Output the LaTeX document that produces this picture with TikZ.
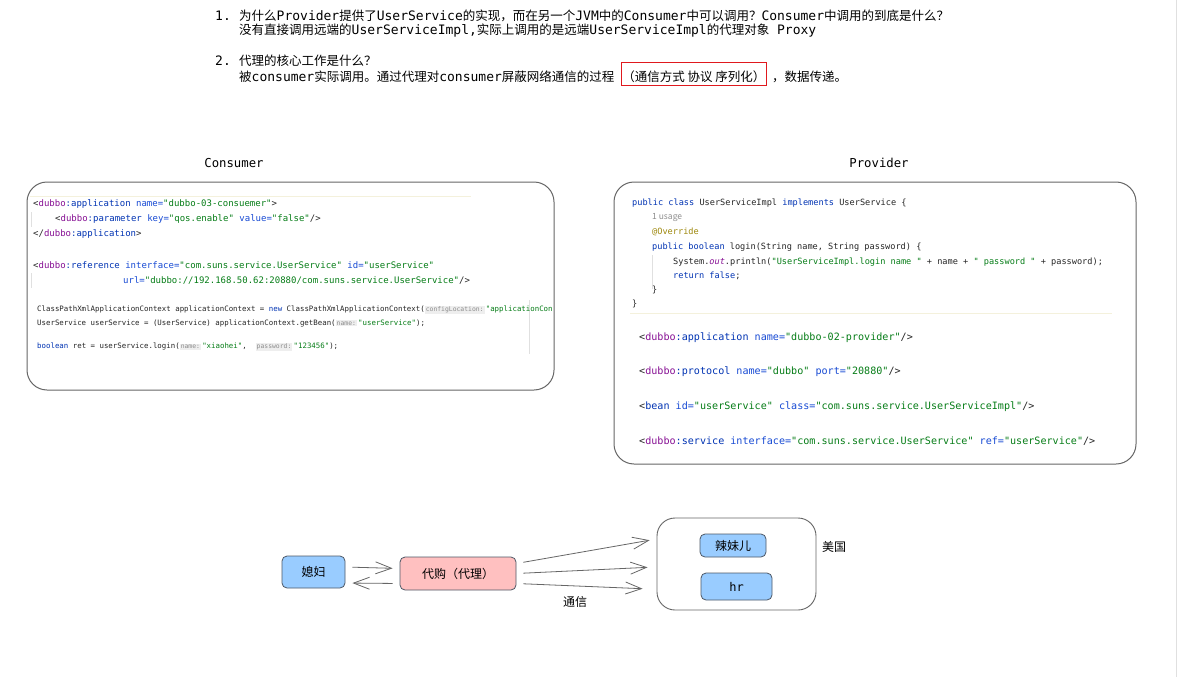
\documentclass[tikz,border=0pt]{standalone}
\usepackage{fontspec}
\setmainfont{Noto Sans CJK SC}
\setmonofont{DejaVu Sans Mono}
\usepackage{xcolor}
\usepackage{tikz}
\usetikzlibrary{positioning,arrows.meta}

\definecolor{kwblue}{HTML}{0033B3}
\definecolor{atblue}{HTML}{174AD4}
\definecolor{strgreen}{HTML}{067D17}
\definecolor{nspurple}{HTML}{871094}
\definecolor{annot}{HTML}{9E880D}
\definecolor{hintfg}{HTML}{8C8C8C}
\definecolor{hintbg}{HTML}{EEEEEE}
\definecolor{linegray}{HTML}{666666}
\definecolor{boxblue}{HTML}{99CCFF}
\definecolor{boxpink}{HTML}{FFC0C0}
\definecolor{boxedge}{HTML}{4D5866}
\definecolor{sepyellow}{HTML}{F4F1DC}
\definecolor{hlred}{HTML}{E0191E}

% mixed header text: latin words in mono
\newcommand\m[1]{{\fontsize{13}{15}\selectfont\ttfamily #1}}
% code colouring
\newcommand\kw[1]{\textcolor{kwblue}{#1}}
\newcommand\attr[1]{\textcolor{atblue}{#1}}
\newcommand\sv[1]{\textcolor{strgreen}{#1}}
\newcommand\ns[1]{\textcolor{nspurple}{#1}}
\newcommand\hint[1]{{\setlength\fboxsep{1pt}\colorbox{hintbg}{\fontsize{6.4}{7}\selectfont\textcolor{hintfg}{#1}}}}

\tikzset{
  hdr/.style={anchor=west, inner sep=0pt, font=\fontsize{12.5}{14}\selectfont},
  hl/.style={draw=hlred, line width=1.3pt, inner xsep=1pt, inner ysep=3.5pt,
    text height=16pt, text depth=0pt},
  title/.style={inner sep=0pt, font=\fontsize{12.3}{14}\selectfont\ttfamily},
  panel/.style={draw=linegray, line width=1pt, fill=white, rounded corners=20pt},
  codeline/.style={anchor=west, inner sep=0pt, text=black!85},
  xmlc/.style={codeline, font=\fontsize{9}{10}\selectfont\ttfamily},
  javac/.style={codeline, font=\fontsize{7.4}{9}\selectfont\ttfamily},
  javap/.style={codeline, font=\fontsize{8.6}{10}\selectfont\ttfamily},
  xmlp/.style={codeline, font=\fontsize{10.1}{12}\selectfont\ttfamily},
  faint/.style={draw=black!12, line width=0.6pt},
  bluebox/.style={draw=boxedge, fill=boxblue, line width=0.8pt, rounded corners=5pt, font=\fontsize{12}{14}\selectfont},
  pinkbox/.style={draw=boxedge, fill=boxpink, line width=0.8pt, rounded corners=5pt, font=\fontsize{12}{14}\selectfont},
  group/.style={draw=linegray, line width=0.9pt, rounded corners=18pt},
  lbl/.style={inner sep=0pt, font=\fontsize{12}{14}\selectfont},
  link/.style={draw=linegray, line width=0.8pt, -{Straight Barb[length=16pt,width=12pt]},
    shorten <=7pt, shorten >=7pt}
}

\begin{document}
\begin{tikzpicture}[x=1pt,y=-1pt]
  \useasboundingbox[fill=white] (0,0) rectangle (1178,677);
  \draw[black!12] (1176.5,0) -- (1176.5,677);

  % questions
  \node[hdr,font=\fontsize{13}{15}\selectfont\ttfamily] (n1) at (215,16) {1.};
  \node[hdr] (q1a) at (239,16) {为什么\m{Provider}提供了\m{UserService}的实现，而在另一个\m{JVM}中的\m{Consumer}中可以调用？\m{Consumer}中调用的到底是什么？};
  \node[hdr] (q1b) at (239,31) {没有直接调用远端的\m{UserServiceImpl,}实际上调用的是远端\m{UserServiceImpl}的代理对象\m{ Proxy}};
  \node[hdr,font=\fontsize{13}{15}\selectfont\ttfamily] (n2) at (215,61) {2.};
  \node[hdr] (q2) at (239,61) {代理的核心工作是什么？};
  \node[hdr] (q2a) at (239,77) {被\m{consumer}实际调用。通过代理对\m{consumer}屏蔽网络通信的过程};
  \node[hdr, hl, base right=6pt of q2a] (q2b) {（通信方式\ 协议\ 序列化）};
  \node[hdr, base right=2pt of q2b] (q2c) {\ ，数据传递。};

  % consumer side
  \node[title] (ctitle) at (234,163) {Consumer};
  \node[panel, minimum width=527pt, minimum height=208pt] (consumer) at (290.5,286) {};
  \draw[sepyellow, line width=1pt] (30,196) -- (471,196);
  \draw[faint] (31,212) -- (31,227);
  \draw[faint] (31,273) -- (31,288);
  \draw[faint] (529.5,300) -- (529.5,354);
  \node[xmlc] (c1) at (33,204) {<\ns{dubbo}\kw{:application} \attr{name=}\sv{"dubbo-03-consuemer"}>};
  \node[xmlc] (c2) at (55,219) {<\ns{dubbo}\kw{:parameter} \attr{key=}\sv{"qos.enable"} \attr{value=}\sv{"false"}/>};
  \node[xmlc] (c3) at (33,234) {</\ns{dubbo}\kw{:application}>};
  \node[xmlc] (c4) at (33,265) {<\ns{dubbo}\kw{:reference} \attr{interface=}\sv{"com.suns.service.UserService"} \attr{id=}\sv{"userService"}};
  \node[xmlc] (c5) at (123,280) {\attr{url=}\sv{"dubbo://192.168.50.62:20880/com.suns.service.UserService"}/>};
  \node[javac] (c6) at (37,310) {ClassPathXmlApplicationContext applicationContext = \kw{new} ClassPathXmlApplicationContext(\hint{configLocation:}\,\sv{"applicationCon}};
  \node[javac] (c7) at (37,323) {UserService userService = (UserService) applicationContext.getBean(\hint{name:}\,\sv{"userService"});};
  \node[javac] (c8) at (37,347) {\kw{boolean} ret = userService.login(\hint{name:}\,\sv{"xiaohei"},\ \ \hint{password:}\,\sv{"123456"});};

  % provider side
  \node[title] (ptitle) at (879,163) {Provider};
  \node[panel, minimum width=522pt, minimum height=282pt] (provider) at (875,323) {};
  \draw[faint] (652,255) -- (652,289);
  \draw[sepyellow, line width=1pt] (630,313) -- (1112,313);
  \node[javap] (p1) at (632,203) {\kw{public class} UserServiceImpl \kw{implements} UserService \{};
  \node[codeline, font=\fontsize{8.5}{10}\selectfont, text=hintfg] (p2) at (652,218) {1 usage};
  \node[javap] (p3) at (652,232) {\textcolor{annot}{@Override}};
  \node[javap] (p4) at (652,247) {\kw{public boolean} login(String name, String password) \{};
  \node[javap] (p5) at (673,262) {System.\textcolor{nspurple}{\itshape out}.println(\sv{"UserServiceImpl.login name "} + name + \sv{" password "} + password);};
  \node[javap] (p6) at (673,276) {\kw{return false};};
  \node[javap] (p7) at (652,290) {\}};
  \node[javap] (p8) at (632,304) {\}};
  \node[xmlp] (p9) at (639,338) {<\ns{dubbo}\kw{:application} \attr{name=}\sv{"dubbo-02-provider"}/>};
  \node[xmlp] (p10) at (639,372) {<\ns{dubbo}\kw{:protocol} \attr{name=}\sv{"dubbo"} \attr{port=}\sv{"20880"}/>};
  \node[xmlp] (p11) at (639,407) {<\kw{bean} \attr{id=}\sv{"userService"} \attr{class=}\sv{"com.suns.service.UserServiceImpl"}/>};
  \node[xmlp] (p12) at (639,441) {<\ns{dubbo}\kw{:service} \attr{interface=}\sv{"com.suns.service.UserService"} \attr{ref=}\sv{"userService"}/>};

  % proxy analogy
  \node[bluebox, minimum width=63pt, minimum height=32pt] (wife) at (313.5,572) {媳妇};
  \node[pinkbox, minimum width=116pt, minimum height=33pt] (proxy) at (458,573.5) {代购（代理）};
  \node[group, minimum width=159pt, minimum height=92pt] (usa) at (736.5,564) {};
  \node[bluebox, minimum width=66pt, minimum height=23pt] (girl) at (733,545.5) {辣妹儿};
  \node[bluebox, minimum width=71pt, minimum height=27pt] (hr) at (736.5,586.5) {\ttfamily hr};
  \node[lbl] (usalbl) at (834,547) {美国};
  \node[lbl] (commlbl) at (575,602) {通信};

  \draw[link] ([yshift=5pt]wife.east) -- ([yshift=5pt]proxy.west);
  \draw[link] ([yshift=-10pt]proxy.west) -- ([yshift=-11pt]wife.east);
  \draw[link] ([yshift=10pt]proxy.east) -- ([yshift=25pt]usa.west);
  \draw[link] (proxy.east) -- ([xshift=-2pt,yshift=-3pt]usa.west);
  \draw[link] ([yshift=-10pt]proxy.east) -- ([xshift=-7pt,yshift=-25pt]usa.west);
\end{tikzpicture}
\end{document}
